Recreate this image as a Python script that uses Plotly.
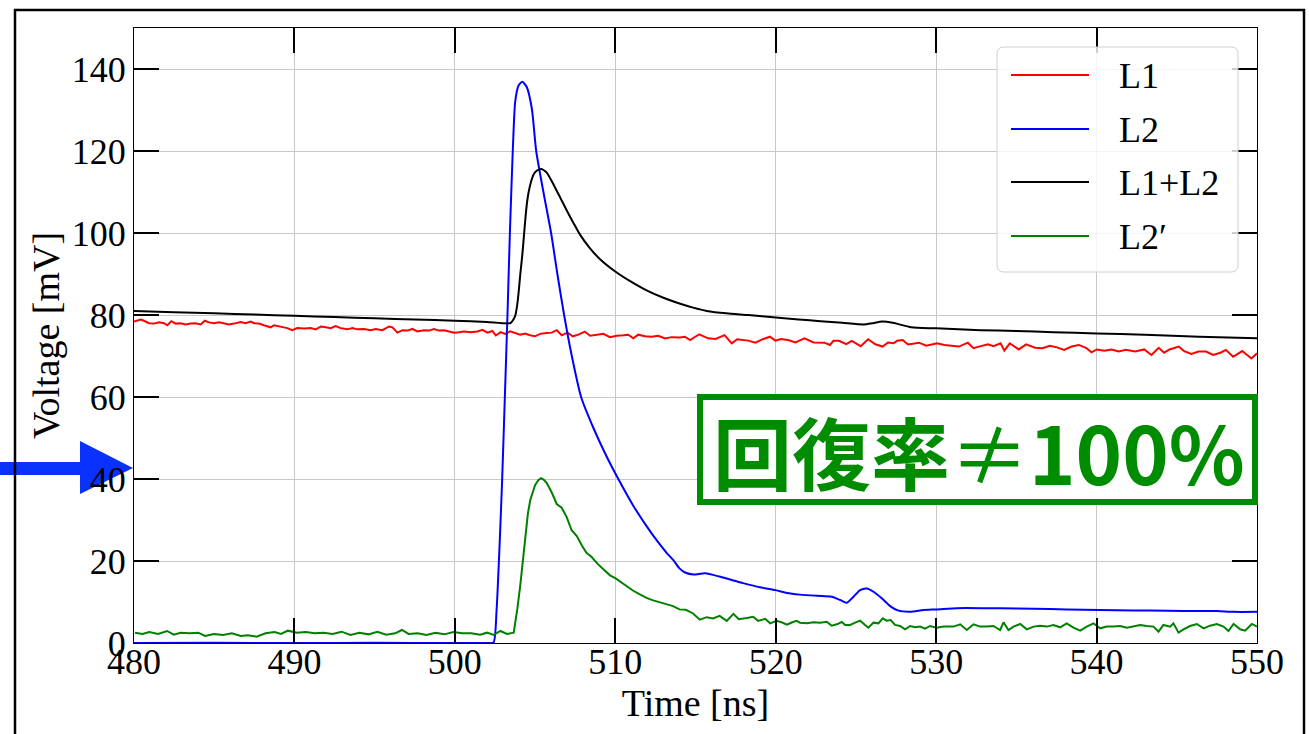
import plotly.graph_objects as go

# ---------------- data: time [ns] and voltage [mV] ----------------
t_L1 = [480.0, 480.42, 480.62, 480.94, 481.25, 481.56, 481.87, 482.08, 482.33, 482.6,
        482.91, 483.22, 483.53, 483.84, 484.16, 484.41, 484.68, 484.99, 485.3, 485.61,
        485.92, 486.23, 486.65, 486.96, 487.27, 487.48, 487.79, 488.1, 488.52, 488.73,
        489.14, 489.56, 489.87, 490.18, 490.6, 491.01, 491.33, 491.64, 491.95, 492.26,
        492.57, 492.88, 493.3, 493.61, 493.92, 494.34, 494.75, 495.07, 495.48, 495.9,
        496.11, 496.42, 496.73, 497.04, 497.35, 497.66, 498.08, 498.39, 498.7, 499.01,
        499.33, 499.64, 499.95, 500.26, 500.57, 500.99, 501.4, 501.72, 502.03, 502.34,
        502.55, 502.86, 503.14, 503.45, 503.76, 504.07, 504.38, 504.69, 505.0, 505.31,
        505.73, 506.04, 506.35, 506.66, 507.02, 507.35, 507.7, 508.1, 508.43, 508.84,
        509.26, 509.67, 510.09, 510.5, 510.81, 511.12, 511.43, 511.85, 512.26, 512.68,
        513.1, 513.51, 514.03, 514.34, 514.66, 515.23, 515.79, 516.25, 516.81, 517.26,
        517.6, 518.28, 518.74, 519.19, 519.64, 519.98, 520.32, 520.77, 521.23, 521.79,
        522.36, 523.04, 523.38, 523.6, 523.94, 524.4, 524.74, 525.3, 525.76, 526.21,
        526.66, 527.0, 527.34, 527.57, 527.91, 528.25, 528.93, 529.38, 530.06, 530.51,
        531.42, 531.98, 532.32, 532.78, 533.23, 533.57, 534.02, 534.25, 534.59, 535.15,
        535.61, 536.17, 536.63, 537.08, 537.53, 537.98, 538.44, 538.89, 539.34, 539.68,
        540.02, 540.48, 540.93, 541.38, 541.83, 542.4, 542.97, 543.42, 543.87, 544.21,
        544.55, 545.12, 545.46, 545.91, 546.36, 546.82, 547.27, 547.72, 548.06, 548.51,
        549.08, 549.65, 550.0]
v_L1 = [78.4, 78.9, 78.6, 78.0, 77.9, 78.2, 78.0, 77.5, 78.5, 77.9,
        78.0, 77.7, 77.9, 78.0, 77.7, 78.6, 78.2, 78.0, 78.2, 78.0,
        77.7, 77.9, 78.3, 78.0, 78.4, 78.0, 77.9, 77.5, 77.0, 77.5,
        77.2, 76.8, 76.3, 76.8, 76.7, 76.8, 76.5, 77.2, 77.0, 76.8,
        77.3, 76.8, 76.5, 76.8, 76.5, 76.6, 76.3, 76.6, 76.3, 77.2,
        77.0, 75.7, 76.3, 76.2, 76.6, 76.0, 76.3, 76.2, 76.6, 76.2,
        76.3, 76.0, 75.7, 75.8, 76.0, 75.8, 76.0, 76.4, 75.7, 76.1,
        75.0, 75.8, 75.4, 76.0, 75.6, 75.2, 75.5, 75.05, 74.8, 75.4,
        75.6, 75.7, 76.3, 75.05, 75.7, 74.8, 75.2, 75.96, 74.95, 75.2,
        75.4, 74.6, 74.95, 75.05, 75.2, 74.3, 75.2, 74.8, 74.7, 74.95,
        74.3, 74.6, 74.5, 74.7, 73.9, 75.3, 74.3, 74.15, 75.1, 73.1,
        74.1, 73.75, 73.25, 74.1, 74.7, 73.75, 74.15, 73.9, 73.3, 74.3,
        73.3, 73.25, 72.7, 73.7, 73.7, 72.9, 73.7, 72.4, 74.1, 72.85,
        72.3, 73.3, 73.1, 73.7, 73.9, 72.8, 73.25, 72.5, 73.1, 72.7,
        72.3, 73.25, 71.9, 72.4, 72.85, 72.4, 73.1, 71.3, 73.1, 71.6,
        72.85, 72.0, 71.9, 72.5, 72.1, 71.5, 72.3, 72.7, 72.0, 70.9,
        71.6, 71.3, 71.6, 71.1, 71.5, 71.1, 71.6, 70.25, 72.0, 70.8,
        71.6, 72.3, 71.2, 70.5, 71.1, 71.1, 70.25, 70.8, 71.5, 69.8,
        71.2, 69.4, 70.65]

t_L2 = [480.0, 485.0, 490.0, 495.0, 500.0, 502.0, 502.41, 502.6, 502.8, 502.95,
        503.1, 503.28, 503.43, 503.61, 503.76, 503.97, 504.21, 504.48, 504.8, 505.07,
        505.52, 506.0, 506.39, 506.81, 507.29, 507.87, 508.63, 509.46, 510.19, 511.12,
        511.95, 512.4, 512.79, 513.2, 513.62, 514.0, 514.35, 514.87, 515.6, 516.5,
        517.97, 519.0, 520.0, 520.7, 521.5, 522.56, 523.49, 524.01, 524.43, 524.85,
        525.26, 525.68, 526.09, 526.61, 527.13, 527.65, 528.38, 529.21, 530.04, 531.29,
        532.95, 535.03, 537.1, 539.18, 541.26, 543.34, 545.42, 547.5, 548.5, 550.0]
v_L2 = [0.0, 0.05, 0.0, 0.05, 0.0, 0.0, 0.1, 8.0, 25.0, 40.0,
        58.0, 80.0, 100.0, 120.0, 132.0, 136.0, 136.9, 135.6, 130.3, 120.0,
        110.0, 100.0, 90.0, 80.0, 70.0, 60.0, 52.5, 45.5, 40.0, 33.5,
        28.5, 26.0, 24.0, 22.0, 20.2, 18.2, 17.2, 16.7, 17.0, 16.2,
        14.6, 13.6, 12.9, 12.2, 11.8, 11.5, 11.3, 10.5, 9.8, 11.3,
        12.9, 13.3, 12.5, 10.9, 9.0, 7.9, 7.65, 8.05, 8.2, 8.5,
        8.5, 8.4, 8.3, 8.1, 8.0, 7.9, 7.8, 7.8, 7.6, 7.6]

t_sum = [480.0, 482.5, 485.0, 487.5, 490.0, 492.5, 495.0, 497.5, 500.0, 502.0,
         503.45, 503.6, 503.76, 503.87, 503.97, 504.08, 504.2, 504.3, 504.4, 504.5,
         504.6, 504.75, 504.9, 505.05, 505.2, 505.4, 505.55, 505.73, 506.14, 506.56,
         507.0, 507.4, 507.8, 508.4, 509.05, 510.0, 510.9, 511.95, 513.0, 514.0,
         514.85, 515.7, 516.93, 518.3, 520.0, 521.43, 522.8, 524.15, 525.5, 526.0,
         526.64, 527.3, 528.45, 530.0, 532.76, 535.0, 537.3, 540.0, 543.0, 546.4,
         550.0]
v_sum = [81.0, 80.7, 80.4, 80.1, 79.8, 79.5, 79.2, 78.9, 78.6, 78.3,
         78.0, 78.6, 79.8, 82.0, 85.3, 90.0, 94.5, 99.0, 103.7, 107.5,
         110.0, 112.5, 114.2, 115.0, 115.4, 115.6, 115.3, 114.7, 111.9, 108.7,
         105.3, 102.4, 99.6, 96.4, 93.6, 90.6, 88.3, 86.0, 84.2, 82.8,
         81.8, 81.0, 80.4, 80.0, 79.4, 78.9, 78.5, 78.1, 77.7, 77.96,
         78.4, 78.1, 77.0, 76.75, 76.3, 76.1, 75.8, 75.5, 75.2, 74.7,
         74.3]

t_L2p = [480.06, 480.53, 480.95, 481.5, 482.06, 482.48, 482.9, 483.46, 484.01, 484.43,
         484.99, 485.55, 486.1, 486.66, 487.08, 487.64, 488.2, 488.76, 489.17, 489.59,
         490.15, 490.71, 491.26, 491.82, 492.38, 492.94, 493.49, 494.05, 494.61, 495.17,
         495.72, 496.28, 496.7, 497.12, 497.68, 498.23, 498.79, 499.35, 499.91, 500.46,
         501.02, 501.58, 502.0, 502.42, 502.84, 503.25, 503.67, 503.76, 503.9, 504.07,
         504.25, 504.4, 504.55, 504.7, 504.85, 505.0, 505.2, 505.37, 505.55, 505.73,
         506.04, 506.35, 506.66, 506.97, 507.28, 507.6, 507.9, 508.2, 508.5, 508.9,
         509.36, 509.67, 510.0, 510.4, 510.8, 511.1, 511.5, 511.95, 512.36, 512.78,
         513.2, 513.6, 514.0, 514.4, 514.85, 515.27, 515.7, 516.1, 516.5, 516.95,
         517.36, 517.7, 518.2, 518.6, 518.9, 519.35, 519.65, 520.06, 520.4, 520.7,
         521.0, 521.3, 521.52, 521.94, 522.35, 522.77, 523.18, 523.49, 523.81, 524.12,
         524.33, 524.64, 524.95, 525.26, 525.57, 525.78, 526.09, 526.4, 526.67, 526.92,
         527.17, 527.44, 527.75, 528.07, 528.38, 528.69, 529.0, 529.31, 529.62, 530.04,
         530.46, 531.08, 531.5, 531.91, 532.33, 532.74, 533.16, 533.57, 533.99, 534.2,
         534.51, 534.82, 535.24, 535.65, 536.07, 536.48, 536.9, 537.31, 537.73, 538.14,
         538.56, 538.98, 539.39, 539.81, 540.22, 540.64, 541.05, 541.47, 541.89, 542.3,
         542.72, 543.13, 543.55, 543.86, 544.17, 544.59, 544.79, 545.11, 545.42, 545.83,
         546.25, 546.67, 547.08, 547.5, 547.91, 548.22, 548.54, 548.95, 549.26, 549.68,
         550.0]
v_L2p = [2.52, 2.2, 2.68, 2.2, 2.93, 2.03, 2.52, 2.36, 2.52, 1.71,
         2.2, 1.95, 2.36, 1.71, 1.87, 1.54, 2.36, 2.68, 2.2, 3.01,
         2.52, 2.68, 2.36, 2.52, 2.2, 2.76, 1.95, 2.52, 2.11, 2.76,
         2.03, 2.36, 3.17, 2.2, 2.36, 1.95, 2.52, 2.11, 2.68, 2.36,
         2.36, 2.03, 2.52, 1.95, 2.93, 2.2, 2.52, 4.6, 8.5, 13.8,
         21.0, 26.6, 31.5, 34.9, 37.0, 38.5, 39.7, 40.2, 39.8, 39.0,
         36.7, 33.9, 33.0, 30.7, 27.5, 26.1, 23.9, 22.0, 21.1, 19.3,
         17.6, 16.5, 15.8, 14.7, 13.8, 12.8, 11.9, 11.0, 10.4, 9.9,
         9.4, 9.0, 8.2, 8.1, 7.2, 5.7, 6.3, 6.0, 6.6, 5.4,
         7.1, 5.8, 6.1, 6.4, 5.4, 5.9, 4.8, 5.4, 5.0, 4.5,
         5.0, 5.4, 4.96, 4.8, 5.05, 4.96, 5.2, 4.23, 4.56, 5.13,
         4.4, 4.4, 4.96, 5.45, 4.4, 3.74, 4.96, 4.8, 6.02, 5.45,
         5.6, 4.4, 4.15, 3.34, 4.15, 3.83, 4.0, 3.5, 4.15, 3.74,
         4.0, 4.0, 4.56, 3.17, 4.56, 4.0, 4.0, 4.15, 3.17, 5.05,
         3.17, 4.0, 4.64, 3.34, 4.0, 4.23, 4.0, 4.4, 3.83, 4.8,
         3.74, 3.0, 4.0, 4.8, 3.58, 4.0, 4.0, 4.15, 3.74, 4.15,
         4.4, 4.15, 4.0, 2.77, 4.4, 4.0, 4.8, 2.52, 3.34, 4.15,
         4.64, 3.58, 4.23, 4.64, 4.0, 2.93, 4.64, 3.34, 3.0, 4.64,
         4.0]

series_names = ["L1", "L2", "L1+L2", "L2\u2032"]
series_colors = ["#ff0000", "#0000ff", "#000000", "#008000"]

x_ticks = [480, 490, 500, 510, 520, 530, 540, 550]
y_ticks = [0, 20, 40, 60, 80, 100, 120, 140]

note_parts = ["回復率", "\u2260", "100%"]
note_color = "rgb(0,140,0)"

# ---------------- layout geometry (pixels) ----------------
W, H = 1309, 734
L, R, T, B = 134, 1257, 28, 643
SERIF = "Liberation Serif, Times New Roman, serif"


def px(x):
    return (x - L) / (R - L)


def py(y):
    return (B - y) / (B - T)


fig = go.Figure()
data = [(t_L1, v_L1, "linear"), (t_L2, v_L2, "spline"),
        (t_sum, v_sum, "spline"), (t_L2p, v_L2p, "linear")]
for (tt, vv, shp), name, col in zip(data, series_names, series_colors):
    fig.add_trace(go.Scatter(x=tt, y=vv, mode="lines", name=name,
                             line=dict(color=col, width=2, shape=shp, smoothing=0.6),
                             showlegend=False))

shapes = []

# blue arrow pointing at the y axis
arrow = [(0, 462), (80, 462), (80, 441), (133, 468), (80, 494), (80, 475), (0, 475)]
path = "M " + " L ".join(f"{px(x):.5f},{py(y):.5f}" for x, y in arrow) + " Z"
shapes.append(dict(type="path", xref="paper", yref="paper", path=path,
                   fillcolor="rgb(10,50,255)", line=dict(width=0), layer="below"))

# outer frame
shapes.append(dict(type="rect", xref="paper", yref="paper",
                   x0=px(15), x1=px(1304), y0=py(10), y1=py(760),
                   line=dict(color="black", width=2.5), layer="above"))

# legend box with rounded corners
lx0, lx1, ly0, ly1, r = 997, 1238, 47, 272, 7
pts = [("M", lx0 + r, ly0), ("L", lx1 - r, ly0), ("Q", lx1, ly0, lx1, ly0 + r),
       ("L", lx1, ly1 - r), ("Q", lx1, ly1, lx1 - r, ly1), ("L", lx0 + r, ly1),
       ("Q", lx0, ly1, lx0, ly1 - r), ("L", lx0, ly0 + r), ("Q", lx0, ly0, lx0 + r, ly0)]
segs = []
for p in pts:
    c = p[0]
    coords = p[1:]
    xy = " ".join(f"{px(coords[i]):.5f},{py(coords[i + 1]):.5f}" for i in range(0, len(coords), 2))
    segs.append(f"{c} {xy}")
shapes.append(dict(type="path", xref="paper", yref="paper", path=" ".join(segs) + " Z",
                   fillcolor="rgba(255,255,255,0.8)", line=dict(color="#d0d0d0", width=1),
                   layer="above"))

annotations = []
leg_y = [75, 129, 182, 236]
for name, col, yy in zip(series_names, series_colors, leg_y):
    shapes.append(dict(type="line", xref="paper", yref="paper",
                       x0=px(1011), x1=px(1089), y0=py(yy), y1=py(yy),
                       line=dict(color=col, width=2), layer="above"))
    annotations.append(dict(xref="paper", yref="paper", x=px(1117), y=py(yy + 1),
                            xanchor="left", yanchor="middle", text=name, showarrow=False,
                            font=dict(family=SERIF, size=36, color="black")))

# boxed statement
shapes.append(dict(type="rect", xref="paper", yref="paper",
                   x0=px(700), x1=px(1255), y0=py(397), y1=py(502),
                   fillcolor="white", line=dict(color=note_color, width=6), layer="above"))
note_html = f"<b>{note_parts[0]}</b>{note_parts[1]}<b>{note_parts[2]}</b>"
annotations.append(dict(xref="paper", yref="paper", x=px(979), y=py(451),
                        xanchor="center", yanchor="middle", text=note_html,
                        showarrow=False,
                        font=dict(family="Noto Sans CJK JP", size=79, color=note_color)))

axis_common = dict(showgrid=True, gridcolor="#c8c8c8", gridwidth=1,
                   showline=True, linecolor="black", linewidth=1, mirror="ticks",
                   ticks="inside", ticklen=25, tickwidth=1.5, tickcolor="black",
                   tickfont=dict(family=SERIF, size=36, color="black"),
                   zeroline=False, automargin=False)

fig.update_layout(
    width=W, height=H,
    margin=dict(l=L, r=W - R, t=T, b=H - B),
    paper_bgcolor="white", plot_bgcolor="white",
    xaxis=dict(range=[480, 550], tickvals=x_ticks, ticklabelstandoff=-13,
               title=dict(text="Time [ns]", standoff=6,
                          font=dict(family=SERIF, size=38, color="black")),
               **axis_common),
    yaxis=dict(range=[0, 150], tickvals=y_ticks,
               title=dict(text="Voltage [mV]", standoff=0,
                          font=dict(family=SERIF, size=38, color="black")),
               **axis_common),
    shapes=shapes, annotations=annotations,
    showlegend=False,
)

fig.write_html("out.html")
